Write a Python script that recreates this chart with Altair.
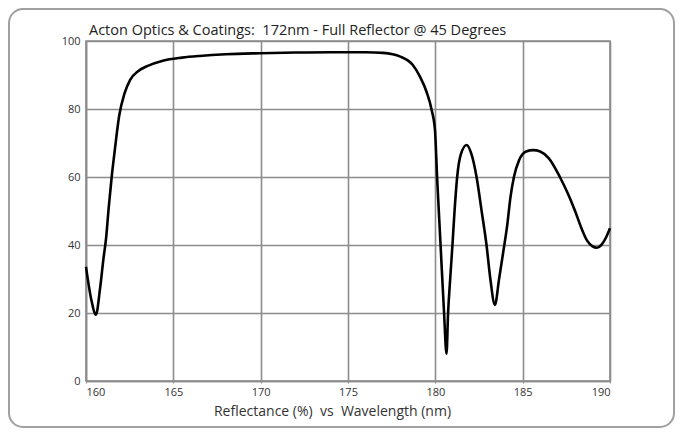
import altair as alt
import pandas as pd

wavelength = [160.0, 160.3, 160.57, 160.8, 161.0, 161.15, 161.3, 161.47, 161.65, 161.9,
              162.2, 162.52, 163.0, 163.5, 164.4, 165.5, 166.5, 168.0, 170.0, 172.0,
              174.0, 176.0, 177.0, 178.0, 178.7, 179.12, 179.5, 179.79, 179.98, 180.1,
              180.3, 180.5, 180.64, 180.73, 180.85, 180.98, 181.1, 181.25, 181.45, 181.79,
              182.05, 182.36, 182.65, 182.93, 183.15, 183.41, 183.65, 183.89, 184.12, 184.3,
              184.5, 184.8, 185.2, 185.6, 186.0, 186.5, 187.13, 187.6, 188.0, 188.4,
              188.7, 189.0, 189.25, 189.5, 189.8, 190.0]
reflectance = [33.6, 24.0, 19.5, 27.0, 36.0, 42.0, 51.0, 60.0, 68.0, 78.0,
               84.5, 88.5, 91.2, 92.6, 94.2, 95.1, 95.6, 96.1, 96.4, 96.6,
               96.7, 96.7, 96.5, 95.4, 93.0, 89.5, 85.0, 79.7, 73.8, 60.0,
               40.0, 20.0, 8.0, 20.0, 30.0, 40.0, 50.0, 60.0, 66.5, 69.4,
               67.0, 60.0, 50.0, 40.0, 30.0, 22.4, 30.0, 38.0, 46.0, 54.0,
               60.0, 65.0, 67.5, 67.9, 67.5, 65.5, 60.0, 55.0, 50.0, 44.5,
               41.2, 39.6, 39.2, 40.0, 42.5, 44.9]
x_ticks = [160, 165, 170, 175, 180, 185, 190]
y_ticks = [0, 20, 40, 60, 80, 100]

title_text = ["Acton Optics & Coatings:\u00a0\u00a0172nm - Full Reflector @ 45 Degrees"]
x_title = "Reflectance (%)\u00a0\u00a0vs\u00a0\u00a0Wavelength (nm)"

df = pd.DataFrame({"wl": wavelength, "r": reflectance})

FONT = "Open Sans"
GRID = "#8c8c8c"

frame = alt.Chart(pd.DataFrame({"a": [0]})).mark_rect(
    fill="white", fillOpacity=0, stroke="#a0a0a0", strokeWidth=2, cornerRadius=14
).encode(
    x=alt.value(-77), x2=alt.value(588), y=alt.value(-32), y2=alt.value(386)
)

title = alt.Chart(pd.DataFrame({"t": title_text})).mark_text(
    align="left", baseline="alphabetic", font=FONT, fontSize=14.5, color="#222"
).encode(
    text="t:N", x=alt.value(3), y=alt.value(-6)
)

line = alt.Chart(df).mark_line(
    color="black", strokeWidth=2.6, interpolate="monotone"
).encode(
    x=alt.X("wl:Q",
            scale=alt.Scale(domain=[160, 190], nice=False),
            axis=alt.Axis(values=x_ticks, title=x_title, grid=True, ticks=True,
                          tickSize=2, labelPadding=3, titlePadding=7,
                          titleFontSize=14, titleFontWeight="normal",
                          titleX=246)),
    y=alt.Y("r:Q",
            scale=alt.Scale(domain=[0, 100], nice=False),
            axis=alt.Axis(values=y_ticks, title=None, grid=True, ticks=False,
                          labelPadding=6)),
)

chart = alt.layer(frame, line, title).properties(
    width=524,
    height=340,
    autosize=alt.AutoSizeParams(type="none"),
    padding={"left": 78, "top": 33, "right": 65, "bottom": 47},
).configure_view(
    stroke=GRID, strokeWidth=1.6
).configure_axis(
    gridColor=GRID, gridWidth=1.6, gridOpacity=1,
    domainColor=GRID, domainWidth=1.6,
    tickColor=GRID,
    labelFont=FONT, labelFontSize=11, labelColor="#333",
    titleFont=FONT, titleColor="#333",
)

chart.save("out.html", embed_options={"renderer": "svg", "actions": False})
